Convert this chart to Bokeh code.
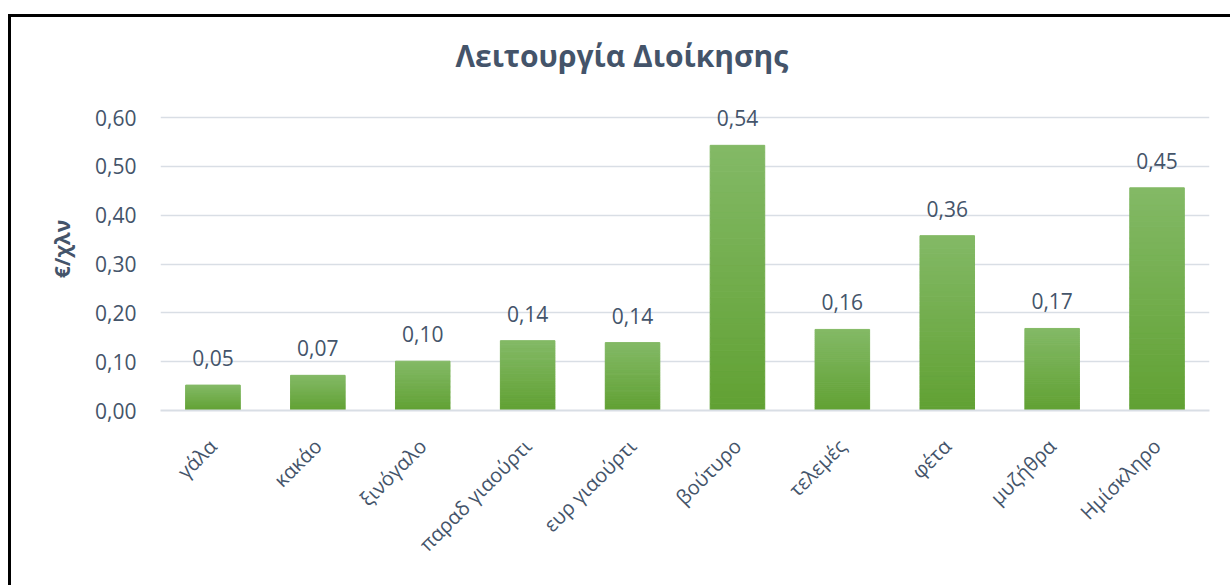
from bokeh.plotting import figure
from bokeh.models import Range1d, FactorRange, FixedTicker, ColumnDataSource, CustomJSTickFormatter, LabelSet
from bokeh.core.properties import value
from bokeh.embed import file_html
from bokeh.resources import INLINE
import numpy as np
import math

categories = ["γάλα", "κακάο", "ξινόγαλο", "παραδ γιαούρτι", "ευρ γιαούρτι",
              "βούτυρο", "τελεμές", "φέτα", "μυζήθρα", "Ημίσκληρο"]
values = [0.052, 0.072, 0.101, 0.143, 0.139, 0.543, 0.166, 0.358, 0.168, 0.456]
labels = ["0,05", "0,07", "0,10", "0,14", "0,14", "0,54", "0,16", "0,36", "0,17", "0,45"]
y_ticks = [0.0, 0.1, 0.2, 0.3, 0.4, 0.5, 0.6]

TXT = "#44546A"
FONT = "Open Sans"
GRID = "#D9DEE5"

# headroom above the top gridline so the tallest label is not clipped
px_per_unit = 293 / 0.6
head_px = 30
y_end = 0.6 + head_px / px_per_unit

p = figure(x_range=FactorRange(*categories, range_padding=0), y_range=Range1d(0, y_end),
           width=1219, height=568, output_backend="svg", toolbar_location=None,
           min_border_left=149, min_border_right=21, min_border_top=100 - head_px,
           min_border_bottom=175, title="Λειτουργία Διοίκησης")
p.styles = {"position": "relative", "left": "11px", "top": "17px",
            "box-shadow": "-1.5px -1.5px 0 1.5px black"}
p.outline_line_color = None

p.title.align = "left"
p.title.offset = 295
p.title.text_font = FONT
p.title.text_font_size = "30px"
p.title.text_font_style = "bold"
p.title.text_color = TXT
p.title.standoff = 54 - head_px

# gradient bars built from slices of each value
N = 40
top_c = np.array([0x83, 0xB9, 0x66])
bot_c = np.array([0x61, 0xA1, 0x33])
xs, bots, tops, cols = [], [], [], []
for cat, v in zip(categories, values):
    for k in range(N):
        f = (k + 0.5) / N  # 0 bottom -> 1 top
        c = bot_c + (top_c - bot_c) * f
        xs.append(cat)
        bots.append(v * k / N)
        tops.append(v * (k + 1) / N)
        cols.append("#%02x%02x%02x" % tuple(int(round(t)) for t in c))
src = ColumnDataSource(dict(x=xs, bottom=bots, top=tops, color=cols))
p.vbar(x="x", bottom="bottom", top="top", width=0.52, source=src,
       fill_color="color", line_color="color", line_width=1)

lab_src = ColumnDataSource(dict(x=categories, y=values, t=labels))
p.add_layout(LabelSet(x="x", y="y", text="t", source=lab_src, text_align="center",
                      text_baseline="alphabetic", y_offset=19, text_font=value(FONT),
                      text_font_size="21px", text_color=TXT))

p.xgrid.grid_line_color = None
p.ygrid.grid_line_color = GRID
p.ygrid.grid_line_width = 1.5
p.yaxis.ticker = FixedTicker(ticks=y_ticks)
p.yaxis.formatter = CustomJSTickFormatter(code="return tick.toFixed(2).replace('.', ',');")
p.yaxis.axis_line_color = None
p.yaxis.major_tick_line_color = None
p.yaxis.minor_tick_line_color = None
p.yaxis.major_label_text_font = FONT
p.yaxis.major_label_text_font_size = "21px"
p.yaxis.major_label_text_color = TXT
p.yaxis.major_label_standoff = 18
p.yaxis.axis_label = "€/χλν"
p.yaxis.axis_label_text_font = FONT
p.yaxis.axis_label_text_font_size = "21px"
p.yaxis.axis_label_text_font_style = "bold"
p.yaxis.axis_label_text_color = TXT
p.yaxis.axis_label_standoff = 16

p.xaxis.axis_line_color = GRID
p.xaxis.axis_line_width = 2
p.xaxis.major_tick_line_color = None
p.xaxis.minor_tick_line_color = None
p.xaxis.major_label_orientation = math.pi / 4
p.xaxis.major_label_text_font = FONT
p.xaxis.major_label_text_font_size = "20px"
p.xaxis.major_label_text_color = TXT
p.xaxis.major_label_standoff = 26

open("out.html", "w").write(file_html(p, INLINE))
